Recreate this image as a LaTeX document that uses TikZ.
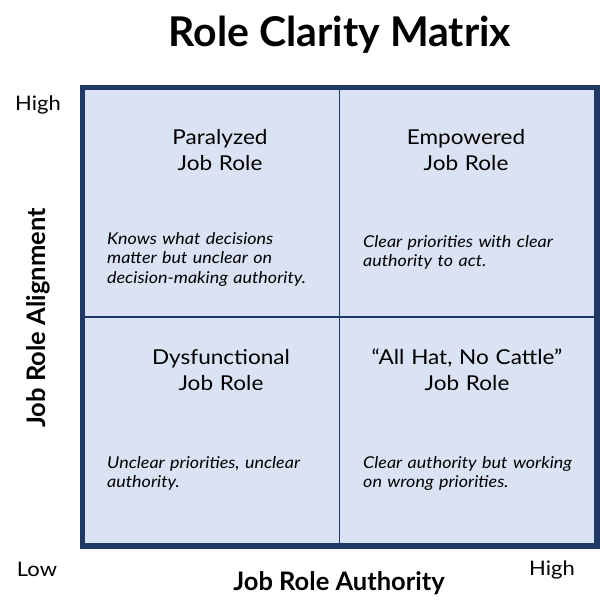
\documentclass[tikz,border=0pt]{standalone}
\usepackage{fontspec}
\setmainfont{Lato}
\newfontfamily\widefont{Lato}[FakeStretch=1.1]
\definecolor{framecol}{HTML}{203864}
\definecolor{cellfill}{HTML}{DAE3F3}
\tikzset{
  titletext/.style={inner sep=0pt, anchor=base, font=\bfseries\fontsize{41bp}{48bp}\selectfont},
  axistitle/.style={inner sep=0pt, anchor=base, font=\bfseries\fontsize{25.5bp}{30bp}\selectfont},
  levellabel/.style={inner sep=0pt, anchor=base, font=\widefont\fontsize{20bp}{24bp}\selectfont},
  quadtitle/.style={inner sep=0pt, anchor=base, text width=240bp, align=center, font=\widefont\fontsize{20.5bp}{26bp}\selectfont},
  quaddesc/.style={inner sep=0pt, anchor=base west, text width=230bp, align=left, font=\widefont\itshape\fontsize{16.3bp}{19.5bp}\selectfont},
  framebox/.style={draw=framecol, line width=5.5bp, fill=cellfill},
  divider/.style={draw=framecol, line width=1.5bp}
}
\begin{document}
\begin{tikzpicture}[x=1bp,y=-1bp]
\useasboundingbox (0,0) rectangle (600,613);
% frame and quadrants
\draw[framebox] (82.3,87.7) rectangle (597.2,546.2);
\coordinate (vtop) at (339.7,87.7);
\coordinate (vbot) at (339.7,546.2);
\coordinate (hleft) at (82.3,317);
\coordinate (hright) at (597.2,317);
\draw[divider] (vtop) -- (vbot);
\draw[divider] (hleft) -- (hright);
% title
\node[titletext] (title) at (340,47) {Role Clarity Matrix};
% axis labels
\node[levellabel] (yhigh) at (38,111) {High};
\node[levellabel] (xlow) at (37,576) {Low};
\node[levellabel] (xhigh) at (552,575) {High};
\node[axistitle] (xaxis) at (339,590) {Job Role Authority};
\node[axistitle, rotate=90] (yaxis) at (45,318) {Job Role Alignment};
% quadrant titles
\node[quadtitle] (tltitle) at (220,145) {Paralyzed\\Job Role};
\node[quadtitle] (trtitle) at (466,145) {Empowered\\Job Role};
\node[quadtitle] (bltitle) at (221,364) {Dysfunctional\\Job Role};
\node[quadtitle] (brtitle) at (467,364) {\textquotedblleft All Hat, No Cattle\textquotedblright\\Job Role};
% descriptions
\node[quaddesc] (tldesc) at (107,244) {Knows what decisions\\matter but unclear on\\decision-making authority.};
\node[quaddesc] (trdesc) at (363,247) {Clear priorities with clear\\authority to act.};
\node[quaddesc] (bldesc) at (107,468) {Unclear priorities, unclear\\authority.};
\node[quaddesc] (brdesc) at (363,468) {Clear authority but working\\on wrong priorities.};
\end{tikzpicture}
\end{document}
